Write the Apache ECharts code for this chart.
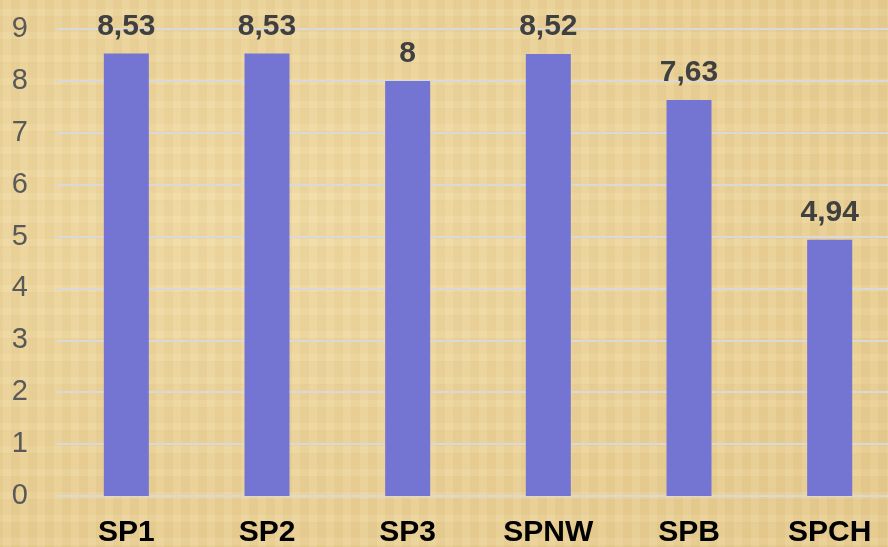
<!DOCTYPE html>
<html>
<head>
<meta charset="utf-8">
<script src="https://cdn.jsdelivr.net/npm/echarts@6/dist/echarts.min.js"></script>
<style>
html,body{margin:0;padding:0;}
#c{width:888px;height:547px;
background-color:#EAD29C;
background-image:
 repeating-linear-gradient(90deg, rgba(190,150,80,0.06) 0px, rgba(190,150,80,0.06) 3px, rgba(255,245,210,0.07) 3px, rgba(255,245,210,0.07) 11px, rgba(170,130,60,0.04) 11px, rgba(170,130,60,0.04) 17px),
 repeating-linear-gradient(0deg, rgba(190,150,80,0.06) 0px, rgba(190,150,80,0.06) 2px, rgba(255,245,210,0.08) 2px, rgba(255,245,210,0.08) 9px, rgba(170,130,60,0.03) 9px, rgba(170,130,60,0.03) 23px),
 radial-gradient(ellipse at 30% 40%, rgba(245,225,170,0.6), rgba(220,185,110,0.3));}
</style>
</head>
<body>
<div id="c"></div>
<script>
var categories = ['SP1','SP2','SP3','SPNW','SPB','SPCH'];
var values = [8.53, 8.53, 8.00, 8.52, 7.63, 4.94];
var valueLabels = ['8,53','8,53','8','8,52','7,63','4,94'];
var yTicks = [0,1,2,3,4,5,6,7,8,9];

var chart = echarts.init(document.getElementById('c'));
chart.setOption({
  backgroundColor: 'transparent',
  animation: false,
  grid: {left: 56, top: 29, width: 844, height: 467, containLabel: false, outerBoundsMode: 'none'},
  xAxis: {
    type: 'category', data: categories,
    axisLine: {show: false}, axisTick: {show: false},
    axisLabel: {color: '#000', fontSize: 30, fontWeight: 'bold', fontFamily: 'Liberation Sans', margin: 22}
  },
  yAxis: {
    type: 'value', min: yTicks[0], max: yTicks[yTicks.length-1], interval: 1,
    axisLine: {show: false}, axisTick: {show: false},
    splitLine: {lineStyle: {color: '#D9D9D9', width: 2}},
    axisLabel: {color: '#595959', fontSize: 29, fontFamily: 'Liberation Sans', margin: 28}
  },
  series: [{
    type: 'bar', data: values, barWidth: 45,
    itemStyle: {color: '#7474D2'},
    label: {
      show: true, position: 'top', distance: 12,
      color: '#404040', fontSize: 30, fontWeight: 'bold', fontFamily: 'Liberation Sans',
      formatter: function(p){ return valueLabels[p.dataIndex]; }
    }
  }]
});
</script>
</body>
</html>
